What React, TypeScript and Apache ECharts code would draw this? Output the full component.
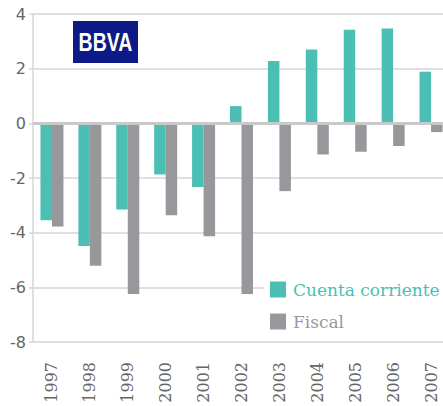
import React, { useEffect, useRef } from "react";
import * as echarts from "echarts";

const years = ["1997", "1998", "1999", "2000", "2001", "2002", "2003", "2004", "2005", "2006", "2007"];
const cuentaCorriente = [-3.55, -4.49, -3.15, -1.87, -2.33, 0.63, 2.28, 2.7, 3.42, 3.47, 1.89];
const fiscal = [-3.77, -5.21, -6.24, -3.36, -4.13, -6.24, -2.48, -1.14, -1.04, -0.83, -0.32];
const seriesNames = ["Cuenta corriente", "Fiscal"];
const yMin = -8;
const yMax = 4;
const yInterval = 2;

const TEAL = "#4bbfb4";
const GRAY = "#97989c";
const GRID = "#d6d6d6";

export default function App() {
  const ref = useRef<HTMLDivElement>(null);
  useEffect(() => {
    if (!ref.current) return;
    const chart = echarts.init(ref.current, undefined, { renderer: "svg" });
    chart.setOption({
      animation: false,
      grid: { left: 33, right: 0, top: 14, bottom: 64 },
      legend: {
        orient: "vertical",
        left: 264,
        top: 275,
        padding: [6, 6, 6, 6],
        backgroundColor: "#ffffff",
        itemWidth: 16,
        itemHeight: 16,
        itemGap: 15,
        icon: "rect",
        data: [
          { name: seriesNames[0], textStyle: { color: TEAL } },
          { name: seriesNames[1], textStyle: { color: GRAY } },
        ],
        textStyle: { fontFamily: "DejaVu Serif", fontSize: 17, padding: [0, 0, 0, 2] },
      },
      xAxis: {
        type: "category",
        data: years,
        position: "bottom",
        axisLine: { show: false },
        axisTick: { show: false },
        axisLabel: {
          rotate: 90,
          margin: 20,
          fontFamily: "DejaVu Serif",
          fontSize: 16,
          color: "#666666",
        },
      },
      yAxis: {
        type: "value",
        min: yMin,
        max: yMax,
        interval: yInterval,
        axisLine: { show: true, lineStyle: { color: GRID, width: 1.5 } },
        axisTick: { show: true, length: 4, lineStyle: { color: GRID, width: 1.5 } },
        splitLine: { show: true, lineStyle: { color: GRID, width: 1.5 } },
        axisLabel: {
          margin: 7,
          fontFamily: "DejaVu Sans",
          fontSize: 16,
          color: "#666666",
        },
      },
      series: [
        {
          name: seriesNames[0],
          type: "bar",
          data: cuentaCorriente,
          barWidth: 11.5,
          barGap: "0%",
          itemStyle: { color: TEAL },
          markLine: {
            silent: true,
            symbol: "none",
            label: { show: false },
            lineStyle: { color: "#c9c9c9", width: 3, type: "solid" },
            data: [{ yAxis: 0 }],
          },
        },
        {
          name: seriesNames[1],
          type: "bar",
          data: fiscal,
          barWidth: 11.5,
          barGap: "0%",
          itemStyle: { color: GRAY },
        },
      ],
      graphic: [
        {
          type: "rect",
          shape: { x: 73, y: 21, width: 65, height: 42 },
          style: { fill: "#0c1a88" },
          z: 10,
        },
        {
          type: "text",
          x: 105.5,
          y: 42.5,
          scaleX: 0.78,
          style: {
            text: "BBVA",
            fill: "#ffffff",
            fontFamily: "Liberation Sans",
            fontWeight: "bold",
            fontSize: 25,
            textAlign: "center",
            textVerticalAlign: "middle",
          },
          z: 11,
        },
      ],
    });
    return () => chart.dispose();
  }, []);
  return (
    <div style={{ position: "fixed", left: 0, top: 0, width: 443, height: 406, overflow: "hidden", background: "#fff" }}>
      <div ref={ref} style={{ width: 450, height: 406 }} />
    </div>
  );
}
